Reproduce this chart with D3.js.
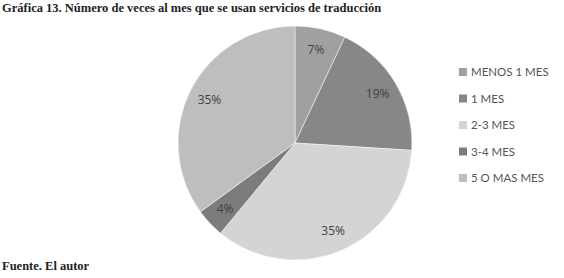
<!DOCTYPE html>
<html><head><meta charset="utf-8">
<script src="https://cdn.jsdelivr.net/npm/d3@7"></script>
<style>body{margin:0;background:#fff}svg{display:block}</style>
</head><body>
<svg id="c" width="564" height="278"></svg>
<script>
const categories = ["MENOS 1 MES", "1 MES", "2-3 MES", "3-4 MES", "5 O MAS MES"];
const values = [7, 19, 35, 4, 35];
const colors = ["#a0a0a0", "#878787", "#d4d4d4", "#7c7c7c", "#bebebe"];

const svg = d3.select("#c");
svg.append("text").attr("x", 2).attr("y", 12)
  .attr("font-family", "Liberation Serif, Times New Roman, serif")
  .attr("font-weight", "bold").attr("font-size", 12.5).attr("fill", "#222")
  .text("Gráfica 13. Número de veces al mes que se usan servicios de traducción");
svg.append("text").attr("x", 2).attr("y", 270)
  .attr("font-family", "Liberation Serif, Times New Roman, serif")
  .attr("font-weight", "bold").attr("font-size", 12.5).attr("fill", "#222")
  .text("Fuente. El autor");

const cx = 295, cy = 143, R = 117;
const pie = d3.pie().sort(null).value(d => d)(values);
const arc = d3.arc().innerRadius(0).outerRadius(R);
const labelArc = d3.arc().innerRadius(96).outerRadius(96);
const color = d3.scaleOrdinal().domain(categories).range(colors);
const g = svg.append("g").attr("transform", `translate(${cx},${cy})`);
g.selectAll("path").data(pie).join("path")
  .attr("d", arc).attr("fill", (d, i) => color(categories[i]))
  .attr("stroke", "#ffffff").attr("stroke-width", 0.5);
g.selectAll("text").data(pie).join("text")
  .attr("transform", d => `translate(${labelArc.centroid(d)})`)
  .attr("text-anchor", "middle").attr("dy", "0.36em")
  .attr("font-family", "Open Sans, Lato, sans-serif").attr("font-size", 12)
  .attr("fill", "#404040")
  .text(d => d.data + "%");

const y = d3.scalePoint().domain(categories).range([72, 178]);
const lg = svg.append("g");
lg.selectAll("rect").data(categories).join("rect")
  .attr("x", 459).attr("y", d => y(d) - 4).attr("width", 8).attr("height", 8)
  .attr("fill", d => color(d));
lg.selectAll("text").data(categories).join("text")
  .attr("x", 471).attr("y", d => y(d)).attr("dy", "0.35em")
  .attr("font-family", "Lato, Open Sans, sans-serif").attr("font-size", 11.5)
  .attr("fill", "#555")
  .text(d => d);
</script>
</body></html>
